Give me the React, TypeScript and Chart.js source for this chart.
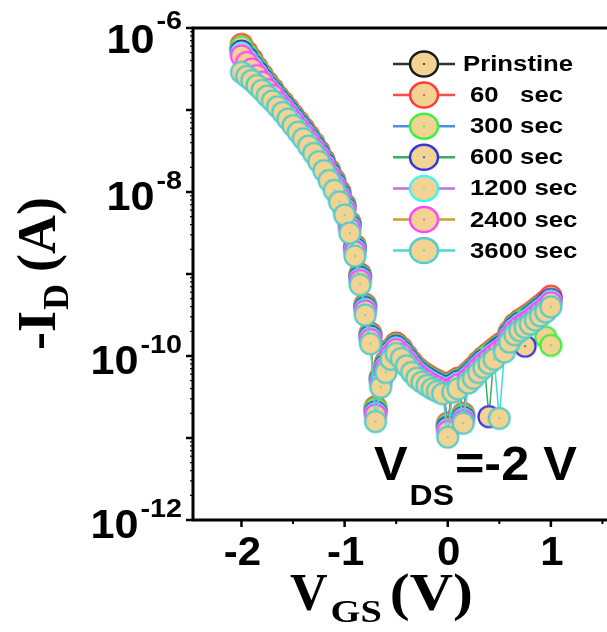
import React, { useEffect, useRef } from 'react';
import { Chart, registerables } from 'chart.js';

Chart.register(...registerables);

// Gate voltage V_GS (V)
const vgs = [
  -2.0, -1.95, -1.9, -1.85, -1.8, -1.75, -1.7, -1.65, -1.6, -1.55,
  -1.5, -1.45, -1.4, -1.35, -1.3, -1.25, -1.2, -1.15, -1.1, -1.05,
  -1.0, -0.95, -0.9, -0.85, -0.8, -0.75, -0.7, -0.65, -0.6, -0.55,
  -0.5, -0.45, -0.4, -0.35, -0.3, -0.25, -0.2, -0.15, -0.1, -0.05,
  0.0, 0.05, 0.1, 0.15, 0.2, 0.25, 0.3, 0.35, 0.4, 0.45,
  0.5, 0.55, 0.6, 0.65, 0.7, 0.75, 0.8, 0.85, 0.9, 0.95, 1.0,
];

const logPrinstine = [
  -6.26, -6.35, -6.43, -6.52, -6.61, -6.69, -6.77, -6.86, -6.93, -7.01,
  -7.09, -7.17, -7.25, -7.34, -7.43, -7.53, -7.64, -7.76, -7.88, -8.02,
  -8.18, -8.40, -8.68, -9.03, -9.40, -9.75, -10.66, -10.28, -10.10, -9.94,
  -9.87, -9.93, -10.02, -10.10, -10.17, -10.22, -10.26, -10.30, -10.33, -10.36,
  -10.85, -10.34, -10.30, -10.73, -10.23, -10.17, -10.10, -10.04, -9.99, -9.94,
  -9.89, -9.85, -9.73, -9.64, -9.59, -9.55, -9.51, -9.46, -9.41, -9.36, -9.30,
];
const log60s = [
  -6.20, -6.29, -6.38, -6.48, -6.57, -6.66, -6.74, -6.83, -6.90, -6.98,
  -7.06, -7.14, -7.22, -7.31, -7.40, -7.50, -7.61, -7.73, -7.85, -7.99,
  -8.15, -8.37, -8.65, -9.00, -9.37, -9.72, -10.62, -10.25, -10.07, -9.91,
  -9.84, -9.90, -9.99, -10.07, -10.14, -10.19, -10.23, -10.27, -10.30, -10.33,
  -10.82, -10.31, -10.27, -10.70, -10.20, -10.14, -10.07, -10.01, -9.96, -9.91,
  -9.86, -9.82, -9.70, -9.61, -9.56, -9.52, -9.48, -9.43, -9.38, -9.33, -9.27,
];
const log300s = [
  -6.23, -6.32, -6.41, -6.50, -6.59, -6.68, -6.76, -6.85, -6.92, -7.00,
  -7.08, -7.16, -7.24, -7.33, -7.42, -7.52, -7.63, -7.75, -7.87, -8.01,
  -8.17, -8.39, -8.67, -9.02, -9.39, -9.74, -10.64, -10.27, -10.09, -9.93,
  -9.86, -9.92, -10.01, -10.09, -10.16, -10.21, -10.25, -10.29, -10.32, -10.35,
  -10.84, -10.33, -10.29, -10.72, -10.22, -10.16, -10.09, -10.03, -9.98, -9.93,
  -9.88, -9.84, -9.72, -9.63, -9.58, -9.54, -9.50, -9.45, -9.40, -9.77, -9.87,
];
const log600s = [
  -6.28, -6.36, -6.45, -6.53, -6.62, -6.71, -6.78, -6.87, -6.94, -7.02,
  -7.10, -7.18, -7.26, -7.35, -7.44, -7.54, -7.65, -7.77, -7.89, -8.03,
  -8.19, -8.41, -8.69, -9.04, -9.41, -9.76, -10.68, -10.29, -10.11, -9.95,
  -9.88, -9.94, -10.03, -10.11, -10.18, -10.23, -10.27, -10.31, -10.34, -10.37,
  -10.87, -10.35, -10.31, -10.75, -10.24, -10.18, -10.11, -10.05, -10.74, -9.95,
  -9.90, -9.86, -9.74, -9.65, -9.60, -9.88, -9.52, -9.47, -9.42, -9.37, -9.31,
];
const log1200s = [
  -6.31, -6.39, -6.47, -6.56, -6.64, -6.73, -6.80, -6.89, -6.96, -7.04,
  -7.12, -7.20, -7.28, -7.37, -7.46, -7.56, -7.67, -7.79, -7.91, -8.05,
  -8.21, -8.43, -8.71, -9.06, -9.43, -9.78, -10.70, -10.31, -10.13, -9.97,
  -9.90, -9.96, -10.05, -10.13, -10.20, -10.25, -10.29, -10.33, -10.36, -10.39,
  -10.90, -10.37, -10.33, -10.77, -10.26, -10.20, -10.13, -10.07, -10.02, -9.97,
  -9.93, -9.88, -9.76, -9.67, -9.62, -9.58, -9.54, -9.49, -9.44, -9.39, -9.33,
];
const log2400s = [
  -6.34, -6.42, -6.50, -6.58, -6.66, -6.75, -6.82, -6.91, -6.98, -7.06,
  -7.14, -7.22, -7.30, -7.39, -7.48, -7.58, -7.69, -7.81, -7.93, -8.07,
  -8.23, -8.45, -8.73, -9.08, -9.45, -9.80, -10.72, -10.33, -10.15, -9.99,
  -9.92, -9.98, -10.07, -10.15, -10.22, -10.27, -10.31, -10.35, -10.38, -10.41,
  -10.92, -10.39, -10.35, -10.79, -10.28, -10.22, -10.15, -10.09, -10.04, -9.99,
  -9.94, -9.90, -9.78, -9.69, -9.64, -9.60, -9.56, -9.51, -9.46, -9.41, -9.35,
];
const log3600s = [
  -6.54, -6.59, -6.64, -6.70, -6.76, -6.83, -6.89, -6.96, -7.03, -7.11,
  -7.19, -7.27, -7.35, -7.44, -7.53, -7.63, -7.74, -7.86, -7.98, -8.12,
  -8.28, -8.50, -8.78, -9.13, -9.50, -9.85, -10.80, -10.38, -10.20, -10.04,
  -9.97, -10.03, -10.12, -10.20, -10.27, -10.32, -10.36, -10.40, -10.43, -10.46,
  -10.99, -10.44, -10.40, -10.82, -10.33, -10.27, -10.20, -10.14, -10.09, -10.04,
  -10.76, -9.95, -9.83, -9.74, -9.69, -9.65, -9.61, -9.56, -9.51, -9.46, -9.40,
];

const seriesNames = ['Prinstine', '60   sec', '300 sec', '600 sec', '1200 sec', '2400 sec', '3600 sec'];
const seriesLogs = [logPrinstine, log60s, log300s, log600s, log1200s, log2400s, log3600s];

const yTickExponents = [-6, -8, -10, -12];
const xTickLabels = [-2, -1, 0, 1];

// styles
const lineColors = ['#333333', '#ff4a4a', '#4d8fe6', '#3daa66', '#b374e6', '#c9a227', '#45d9d9'];
const borderColors = ['#1a1a1a', '#ff3b3b', '#3ef03e', '#3535dd', '#45f2f2', '#ff45ff', '#52cccc'];
const markerFill = '#f3d391';
const drawOrder = [6, 5, 4, 3, 2, 1, 0];

function makeMarker(border: string, r: number, lw: number) {
  const size = Math.ceil(2 * r + lw + 2);
  const c = document.createElement('canvas');
  c.width = size;
  c.height = size;
  const g = c.getContext('2d')!;
  const m = size / 2;
  g.beginPath();
  g.arc(m, m, r, 0, Math.PI * 2);
  g.fillStyle = markerFill;
  g.fill();
  g.lineWidth = lw;
  g.strokeStyle = border;
  g.stroke();
  g.beginPath();
  g.arc(m, m, 0.9, 0, Math.PI * 2);
  g.fillStyle = border;
  g.fill();
  return c;
}

function drawText(
  ctx: CanvasRenderingContext2D,
  text: string,
  x: number,
  y: number,
  font: string,
  align: 'left' | 'right' | 'center',
  sx: number,
  baseline: CanvasTextBaseline = 'alphabetic'
) {
  ctx.save();
  ctx.font = font;
  ctx.textBaseline = baseline;
  ctx.textAlign = 'left';
  const w = ctx.measureText(text).width * sx;
  let left = x;
  if (align === 'right') left = x - w;
  else if (align === 'center') left = x - w / 2;
  ctx.translate(left, y);
  ctx.scale(sx, 1);
  ctx.fillStyle = '#000';
  ctx.fillText(text, 0, 0);
  ctx.restore();
  return w;
}

const decorPlugin = {
  id: 'decor',
  afterDatasetsDraw(chart: any) {
    const ctx: CanvasRenderingContext2D = chart.ctx;
    const a = chart.chartArea;
    const xs = chart.scales.x;
    const ys = chart.scales.y;
    const W = chart.width;
    ctx.save();
    ctx.strokeStyle = '#000';
    ctx.lineCap = 'butt';

    // frame
    ctx.lineWidth = 3;
    ctx.beginPath();
    ctx.moveTo(W, a.top);
    ctx.lineTo(a.left, a.top);
    ctx.lineTo(a.left, a.bottom);
    ctx.lineTo(W, a.bottom);
    ctx.stroke();

    // y ticks
    for (let e = -12; e <= -6; e++) {
      const py = ys.getPixelForValue(Math.pow(10, e));
      ctx.lineWidth = 2.5;
      ctx.beginPath();
      ctx.moveTo(a.left - 7, py);
      ctx.lineTo(a.left, py);
      ctx.stroke();
      if (e < -6) {
        for (let m = 2; m <= 9; m++) {
          const pm = ys.getPixelForValue(m * Math.pow(10, e));
          ctx.lineWidth = 1.2;
          ctx.beginPath();
          ctx.moveTo(a.left - 3, pm);
          ctx.lineTo(a.left, pm);
          ctx.stroke();
        }
      }
    }
    // x ticks
    for (const v of xTickLabels) {
      const px = xs.getPixelForValue(v);
      ctx.lineWidth = 2.5;
      ctx.beginPath();
      ctx.moveTo(px, a.bottom);
      ctx.lineTo(px, a.bottom + 7);
      ctx.stroke();
      const ph = xs.getPixelForValue(v + 0.5);
      if (ph < W) {
        ctx.lineWidth = 2;
        ctx.beginPath();
        ctx.moveTo(ph, a.bottom);
        ctx.lineTo(ph, a.bottom + 4);
        ctx.stroke();
      }
    }
    const phm = xs.getPixelForValue(-2.5);
    if (phm > a.left) {
      ctx.beginPath();
      ctx.moveTo(phm, a.bottom);
      ctx.lineTo(phm, a.bottom + 4);
      ctx.stroke();
    }

    // y tick labels
    const bigFont = 'bold 40px "Liberation Sans", Arial, sans-serif';
    const supFont = 'bold 25px "Liberation Sans", Arial, sans-serif';
    for (const e of yTickExponents) {
      const py = ys.getPixelForValue(Math.pow(10, e));
      const supBase = Math.max(py - 3, 29);
      const mainBase = Math.max(py + 18, 53);
      const wSup = drawText(ctx, String(e), 182, supBase, supFont, 'right', 1.15);
      drawText(ctx, '10', 182 - wSup - 2, mainBase, bigFont, 'right', 1.08);
    }
    // x tick labels
    for (const v of xTickLabels) {
      const px = xs.getPixelForValue(v);
      drawText(ctx, String(v), px + 1, 565, bigFont, 'center', 1.05);
    }

    // axis titles (serif bold)
    const serif = (s: number) => `bold ${s}px "Liberation Serif", "Times New Roman", serif`;
    // x title: V_GS (V)
    let cx = 290;
    cx += drawText(ctx, 'V', cx, 610, serif(52), 'left', 1.0);
    cx += 3;
    cx += drawText(ctx, 'GS', cx, 622, serif(32), 'left', 1.2);
    cx += 8;
    drawText(ctx, '(V)', cx, 610, serif(52), 'left', 1.15);

    // y title: -I_D (A), rotated
    ctx.save();
    ctx.translate(55, 350);
    ctx.rotate(-Math.PI / 2);
    let cy = 0;
    cy += drawText(ctx, '-I', cy, 0, serif(54), 'left', 1.0);
    cy += 1;
    cy += drawText(ctx, 'D', cy, 13, serif(36), 'left', 1.0);
    cy += 12;
    drawText(ctx, '(A)', cy, 0, serif(54), 'left', 1.0);
    ctx.restore();

    // V_DS annotation
    const ann = (s: number) => `bold ${s}px "Liberation Sans", Arial, sans-serif`;
    let ax = 374;
    ax += drawText(ctx, 'V', ax, 480, ann(48), 'left', 1.05);
    ax += 2;
    ax += drawText(ctx, 'DS', ax, 505, ann(29), 'left', 1.1);
    drawText(ctx, '=-2 V', ax + 1, 480, ann(48), 'left', 1.05);

    // legend
    const legFont = 'bold 22px "Liberation Sans", Arial, sans-serif';
    for (let i = 0; i < seriesNames.length; i++) {
      const ry = 64 + i * 31.1;
      ctx.strokeStyle = lineColors[i];
      ctx.lineWidth = 2.5;
      ctx.beginPath();
      ctx.moveTo(393, ry);
      ctx.lineTo(455, ry);
      ctx.stroke();
      ctx.beginPath();
      ctx.ellipse(424, ry, 14, 12.5, 0, 0, Math.PI * 2);
      ctx.fillStyle = markerFill;
      ctx.fill();
      ctx.strokeStyle = borderColors[i];
      ctx.lineWidth = 2.5;
      ctx.stroke();
      ctx.beginPath();
      ctx.arc(424, ry, 1, 0, Math.PI * 2);
      ctx.fillStyle = borderColors[i];
      ctx.fill();
      drawText(ctx, seriesNames[i], i === 0 ? 463 : 470, ry + 1, legFont, 'left', 1.17, 'middle');
    }
    ctx.restore();
  },
};

export default function App() {
  const ref = useRef<HTMLCanvasElement | null>(null);
  useEffect(() => {
    document.body.style.margin = '0';
    const canvas = ref.current!;
    const datasets = seriesNames.map((name, i) => ({
      label: name,
      data: vgs.map((v, k) => ({ x: v, y: Math.pow(10, seriesLogs[i][k]) })),
      borderColor: lineColors[i],
      borderWidth: 1.5,
      backgroundColor: markerFill,
      pointStyle: makeMarker(borderColors[i], 10.5, 2.2) as any,
      pointRadius: 11,
      order: drawOrder[i],
      fill: false,
      tension: 0,
    }));
    const chart = new Chart(canvas, {
      type: 'line',
      data: { datasets },
      options: {
        responsive: false,
        animation: false,
        devicePixelRatio: 1,
        layout: { padding: { left: 193, top: 28, right: 0, bottom: 112 } },
        plugins: { legend: { display: false }, tooltip: { enabled: false } },
        scales: {
          x: { type: 'linear', min: -2.47, max: 1.423, display: false },
          y: { type: 'logarithmic', min: 1e-12, max: 1e-6, display: false },
        },
      },
      plugins: [decorPlugin],
    } as any);
    return () => chart.destroy();
  }, []);
  return (
    <div style={{ width: 607, height: 632 }}>
      <canvas ref={ref} width={607} height={632} style={{ display: 'block' }} />
    </div>
  );
}
